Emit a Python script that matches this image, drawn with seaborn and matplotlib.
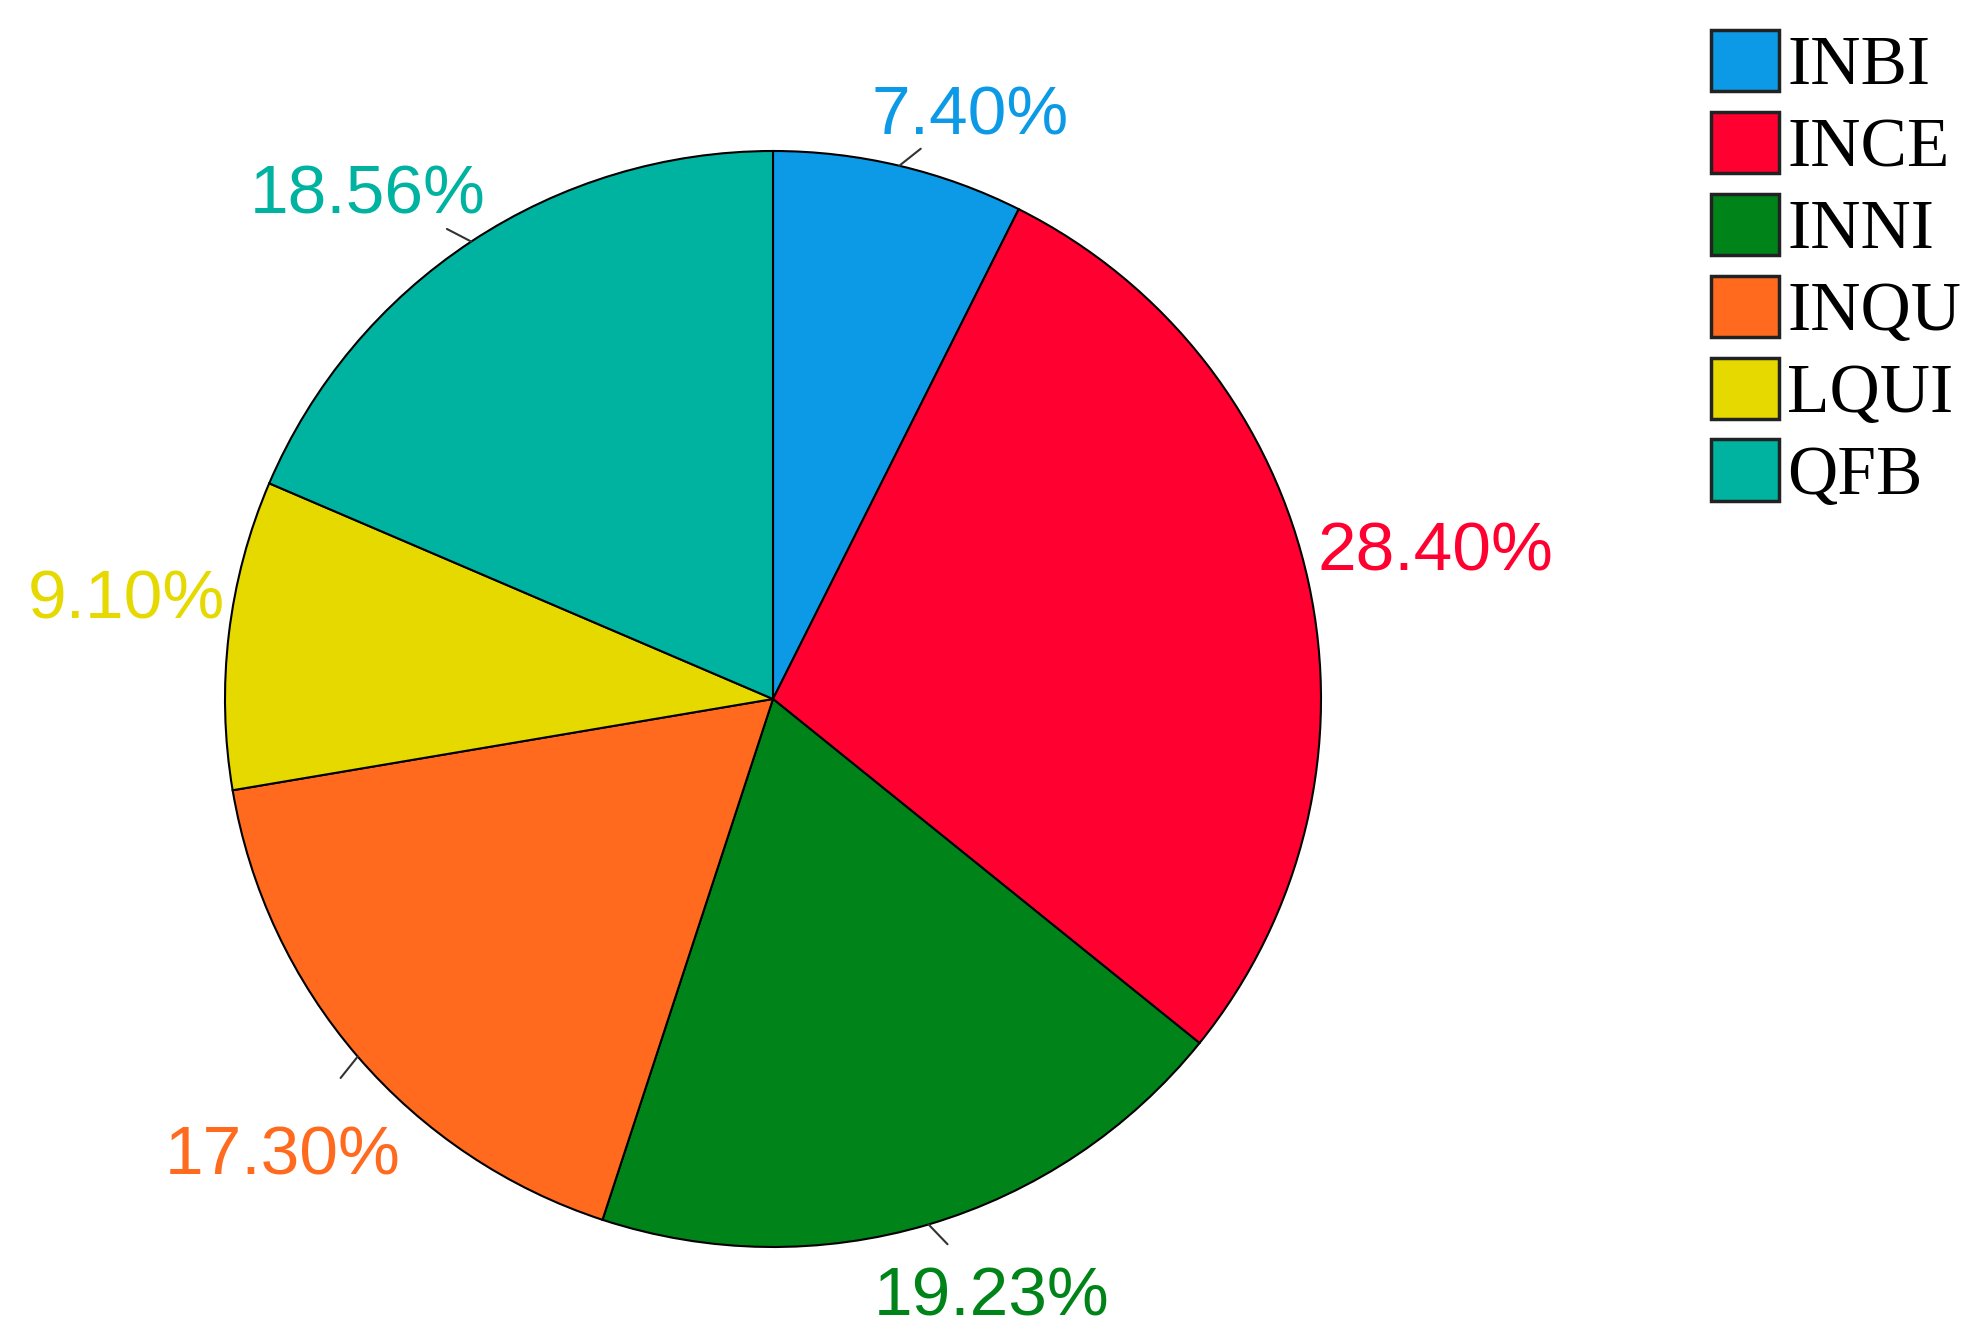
import numpy as np
import seaborn as sns
import matplotlib.pyplot as plt

categories = ['INBI', 'INCE', 'INNI', 'INQU', 'LQUI', 'QFB']
shares = [7.40, 28.40, 19.23, 17.30, 9.10, 18.56]
pct_labels = ['7.40%', '28.40%', '19.23%', '17.30%', '9.10%', '18.56%']
colors = ['#0C9AE6', '#FF0030', '#008419', '#FF6A1F', '#E5D900', '#00B3A0']

sns.set_theme(style="white")
plt.rcParams['font.family'] = ['Liberation Sans', 'DejaVu Sans']

fig = plt.figure(figsize=(19.75, 13.43), dpi=100)
# pie centre ~ (773, 699) px, radius ~548 px
ax = fig.add_axes([225 / 1975, 96 / 1343, 1096 / 1975, 1096 / 1343])

wedges, _ = ax.pie(shares, colors=colors, startangle=90, counterclock=False,
                   wedgeprops=dict(edgecolor='black', linewidth=1.5))
ax.set_xlim(-1, 1)
ax.set_ylim(-1, 1)
ax.set_aspect('equal')
ax.axis('off')

# label placement: radial distance and angle nudge (deg) per slice
label_r = [1.135, 1.24, 1.15, 1.215, 1.195, 1.19]
label_da = [-5.2, 0.8, 3.8, 1.9, -2.5, 5]
with_tick = [True, False, True, True, False, True]

for w, lab, c, r, da, tk in zip(wedges, pct_labels, colors, label_r, label_da, with_tick):
    mid = np.deg2rad((w.theta1 + w.theta2) / 2)
    a = mid + np.deg2rad(da)
    lx, ly = r * np.cos(a), r * np.sin(a)
    ax.text(lx, ly, lab, color=c, fontsize=50,
            ha='center', va='center_baseline', clip_on=False)
    if tk:
        x0, y0 = np.cos(mid), np.sin(mid)
        d = np.array([lx - x0, ly - y0])
        d = d / np.hypot(*d) * 0.05
        ax.plot([x0, x0 + d[0]], [y0, y0 + d[1]],
                color='#333333', lw=1.5, clip_on=False)

leg = fig.legend(wedges, categories, loc='upper left',
                 bbox_to_anchor=(1683 / 1975, 1 - 2 / 1343),
                 prop={'family': 'Liberation Serif', 'size': 50},
                 frameon=False, handlelength=0.98, handleheight=0.98,
                 handletextpad=0.12, labelspacing=0.18, borderaxespad=0)
for h in leg.legend_handles:
    h.set_edgecolor('#222222')
    h.set_linewidth(2.5)
for t in leg.get_texts():
    t.set_color('black')

fig.savefig('out.png', dpi=100)
